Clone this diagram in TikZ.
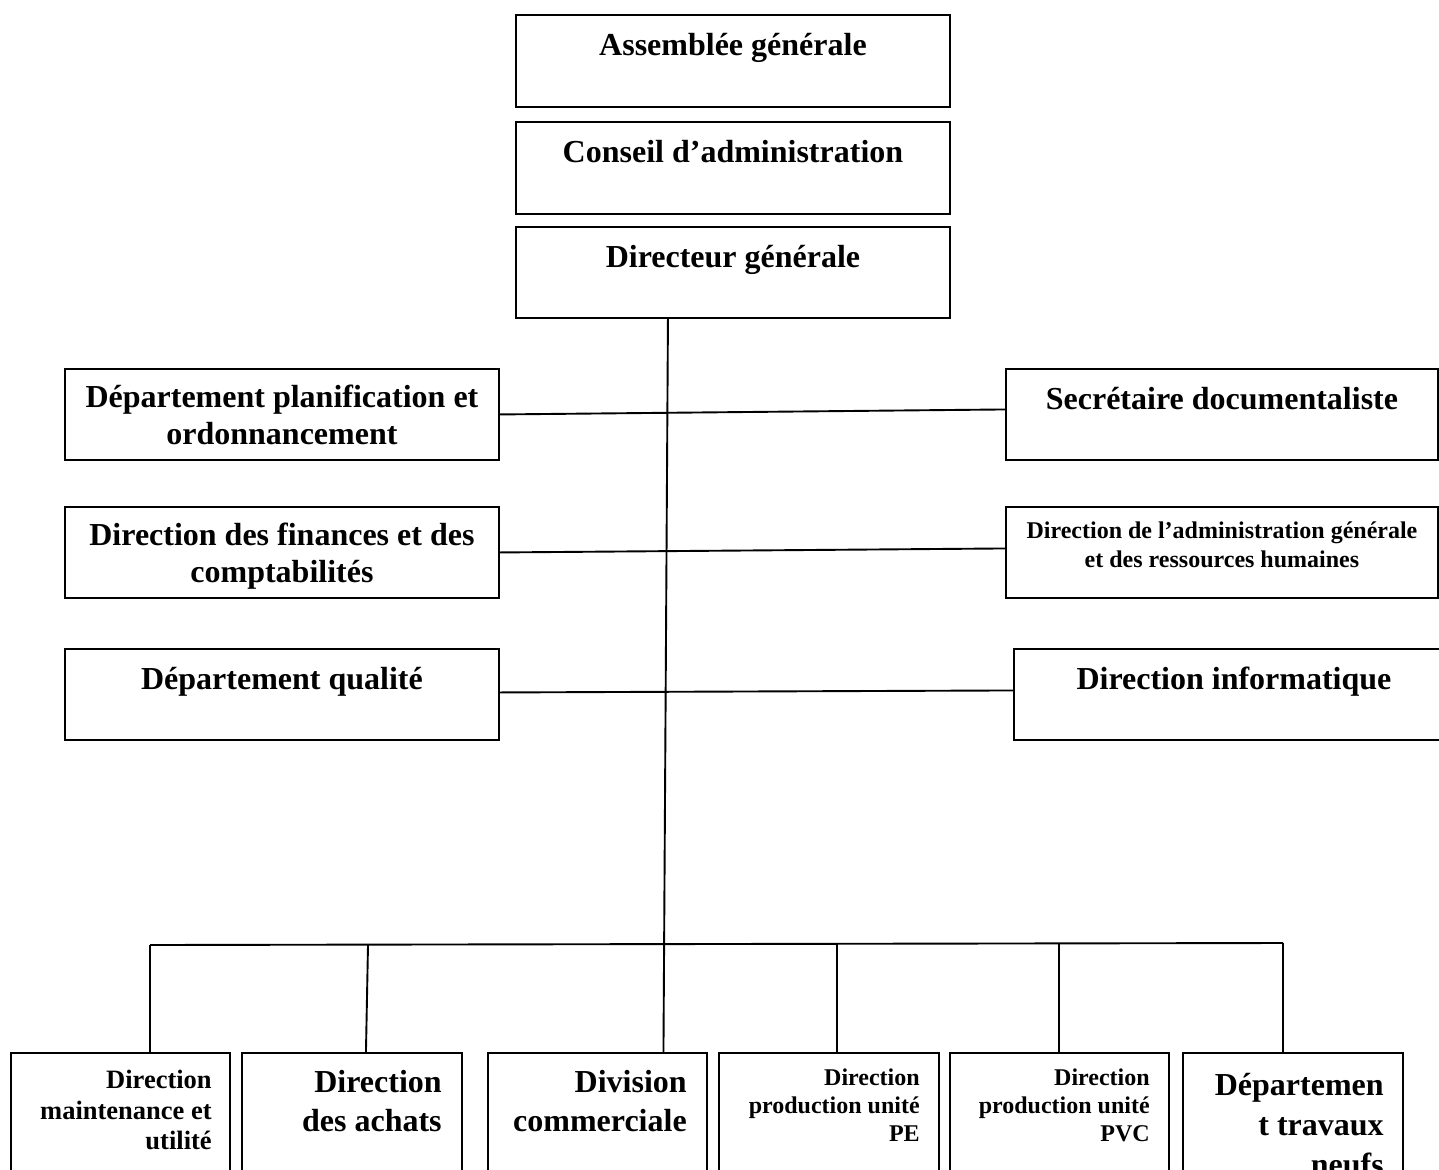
\documentclass[tikz,border=0pt]{standalone}
\usepackage{fontspec}
\setmainfont{Liberation Serif}
\usetikzlibrary{positioning}
\tikzset{ % boxes and texts
  unit/.style={draw, line width=1.9pt, inner sep=0pt, anchor=north west},
  topunit/.style={unit, minimum width=434pt, minimum height=92pt},
  sideunit/.style={unit, minimum width=434pt, minimum height=91pt},
  lowunit/.style={unit, minimum width=220pt, minimum height=160pt},
  lbl/.style={inner sep=0pt, align=center, font=\bfseries\fontsize{32}{37}\selectfont},
  lowlbl/.style={inner sep=0pt, align=right, font=\bfseries\fontsize{32}{39}\selectfont},
  link/.style={line width=1.9pt}
}

\begin{document}
\begin{tikzpicture}[x=1pt, y=-1pt]
\useasboundingbox (0,0) rectangle (1439,1169);
\clip (0,0) rectangle (1439,1169);
\node[topunit] (ag) at (515,14) {};
\node[topunit] (ca) at (515,121) {};
\node[topunit, minimum height=91pt] (dg) at (515,226) {};
\node[sideunit] (dpo) at (64,368) {};
\node[sideunit, minimum width=432pt] (sd) at (1005,368) {};
\node[sideunit] (dfc) at (64,506) {};
\node[sideunit, minimum width=432pt] (dag) at (1005,506) {};
\node[sideunit] (dq) at (64,648) {};
\node[sideunit, minimum width=440pt] (di) at (1013,648) {};
\node[lowunit, minimum width=219pt] (dmu) at (10,1052) {};
\node[lowunit] (da) at (241,1052) {};
\node[lowunit, minimum width=219pt] (dc) at (487,1052) {};
\node[lowunit] (dpe) at (718,1052) {};
\node[lowunit, minimum width=219pt] (dpv) at (949,1052) {};
\node[lowunit] (dtn) at (1182,1052) {};

\node[lbl, below=19pt of ag.north] (agt) {Assemblée générale};
\node[lbl, below=19pt of ca.north] (cat) {Conseil d’administration};
\node[lbl, below=19pt of dg.north] (dgt) {Directeur générale};
\node[lbl, below=17pt of dpo.north] (dpot) {Département planification et\\ordonnancement};
\node[lbl, below=19pt of sd.north] (sdt) {Secrétaire documentaliste};
\node[lbl, below=17pt of dfc.north] (dfct) {Direction des finances et des\\comptabilités};
\node[lbl, below=16pt of dag.north, font=\bfseries\fontsize{24}{29}\selectfont] (dagt) {Direction de l’administration générale\\et des ressources humaines};
\node[lbl, below=19pt of dq.north] (dqt) {Département qualité};
\node[lbl, below=19pt of di.north] (dit) {Direction informatique};
\node[lowlbl, below left=18pt and 19pt of dmu.north east, font=\bfseries\fontsize{26.5}{30.5}\selectfont] (dmut) {Direction\\maintenance et\\utilité};
\node[lowlbl, below left=18pt and 21pt of da.north east] (dat) {Direction\\des achats};
\node[lowlbl, below left=18pt and 21pt of dc.north east] (dct) {Division\\commerciale};
\node[lowlbl, below left=17pt and 20pt of dpe.north east, font=\bfseries\fontsize{24}{28}\selectfont] (dpet) {Direction\\production unité\\PE};
\node[lowlbl, below left=17pt and 20pt of dpv.north east, font=\bfseries\fontsize{24}{28}\selectfont] (dpvt) {Direction\\production unité\\PVC};
\node[lowlbl, below left=21pt and 20pt of dtn.north east, font=\bfseries\fontsize{32}{40}\selectfont] (dtnt) {Départemen\\t travaux\\neufs};

\coordinate (j1) at (150,945);
\coordinate (j2) at (368,945);
\coordinate (j4) at (837,944);
\coordinate (j5) at (1059,944);
\coordinate (j6) at (1283,943);
\draw[link] ([xshift=-65pt]dg.south) -- ([xshift=66pt]dc.north);
\draw[link] (dpo.east) -- ([yshift=5pt]sd.west);
\draw[link] (dfc.east) -- ([yshift=4pt]dag.west);
\draw[link] ([yshift=2pt]dq.east) -- ([yshift=4pt]di.west);
\draw[link] (j1) -- (j6);
\draw[link] (j1) -- (dmu.north -| j1);
\draw[link] (j2) -- ([xshift=14pt]da.north);
\foreach \j/\u in {j4/dpe, j5/dpv, j6/dtn}
  \draw[link] (\j) -- (\u.north -| \j);
\end{tikzpicture}
\end{document}
